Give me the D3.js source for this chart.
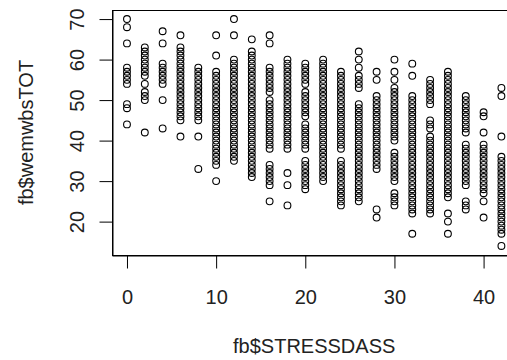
<!DOCTYPE html>
<html>
<head>
<meta charset="utf-8">
<script src="https://cdn.jsdelivr.net/npm/d3@7"></script>
<style>
  html, body { margin: 0; padding: 0; background: #fff; }
  svg { display: block; }
  text { font-family: "Liberation Sans", Arial, sans-serif; fill: #222; }
</style>
</head>
<body>
<div id="chart"></div>
<script>
// STRESSDASS values (x) — one column of points per value
const stressLevels = [0, 2, 4, 6, 8, 10, 12, 14, 16, 18, 20, 22, 24, 26, 28, 30, 32, 34, 36, 38, 40, 42];

const wemwbsByStress = [
  [70, 68, 64, 58, 57, 56, 55, 54, 49, 48, 44],
  [63, 62, 61, 60, 59, 58, 57, 56, 54, 52, 51, 50, 42],
  [67, 64, 59, 58, 57, 56, 55, 54, 50, 43],
  [66, 63, 62, 61, 60, 59, 58, 57, 56, 55, 54, 53, 52, 51, 50, 49, 48, 47, 46, 45, 41],
  [58, 57, 56, 55, 54, 53, 52, 51, 50, 49, 48, 47, 46, 45, 41, 33],
  [66, 61, 57, 56, 55, 54, 53, 52, 51, 50, 49, 48, 47, 46, 45, 44, 43, 42, 41, 40, 39, 38, 37, 36, 35, 34, 30],
  [70, 66, 60, 59, 58, 57, 56, 55, 54, 53, 52, 51, 50, 49, 48, 47, 46, 45, 44, 43, 42, 41, 40, 39, 38, 37, 36, 35],
  [65, 62, 61, 60, 59, 58, 57, 56, 55, 54, 53, 52, 51, 50, 49, 48, 47, 46, 45, 44, 43, 42, 41, 40, 39, 38, 37, 36, 35, 34, 33, 32, 31],
  [66, 64, 58, 57, 56, 55, 54, 53, 52, 50, 49, 48, 47, 46, 45, 44, 43, 42, 41, 40, 39, 38, 34, 33, 32, 31, 30, 29, 25],
  [60, 59, 58, 57, 56, 55, 54, 53, 52, 51, 50, 49, 48, 47, 46, 45, 44, 43, 42, 41, 40, 39, 38, 32, 29, 24],
  [59, 58, 57, 56, 55, 54, 52, 51, 50, 49, 48, 47, 46, 44, 43, 42, 41, 40, 39, 38, 35, 34, 33, 32, 31, 30, 29, 28],
  [60, 59, 58, 57, 56, 55, 54, 53, 52, 51, 50, 49, 48, 47, 46, 45, 44, 43, 42, 41, 40, 39, 38, 37, 36, 35, 34, 33, 32, 31, 30],
  [57, 56, 55, 54, 53, 52, 51, 50, 49, 48, 47, 46, 45, 44, 43, 42, 41, 40, 39, 38, 35, 34, 33, 32, 31, 30, 29, 28, 27, 26, 25, 24],
  [62, 60, 58, 56, 55, 54, 53, 49, 48, 47, 46, 45, 44, 43, 42, 41, 40, 39, 38, 37, 36, 35, 34, 33, 32, 31, 30, 29, 28, 27, 26, 25],
  [57, 55, 51, 50, 49, 48, 47, 46, 45, 44, 43, 42, 41, 40, 39, 38, 37, 36, 35, 34, 33, 23, 21],
  [60, 57, 55, 53, 52, 51, 50, 49, 48, 47, 46, 45, 44, 43, 42, 41, 40, 37, 36, 35, 34, 33, 32, 31, 30, 27, 26, 25, 24],
  [59, 56, 51, 50, 49, 48, 47, 46, 45, 44, 43, 42, 41, 40, 39, 38, 37, 36, 35, 34, 33, 32, 31, 30, 29, 28, 27, 26, 25, 24, 23, 22, 17],
  [55, 54, 53, 52, 51, 50, 49, 45, 44, 43, 41, 40, 39, 38, 37, 36, 35, 34, 33, 32, 31, 30, 29, 28, 27, 26, 25, 24, 23, 22],
  [57, 56, 55, 54, 53, 52, 51, 50, 49, 48, 47, 46, 45, 44, 43, 42, 41, 40, 39, 38, 37, 36, 35, 34, 33, 32, 31, 30, 29, 28, 27, 26, 22, 20, 17],
  [51, 50, 49, 48, 47, 46, 45, 44, 43, 42, 39, 38, 37, 36, 35, 34, 33, 32, 31, 30, 29, 25, 24, 23],
  [47, 46, 42, 39, 38, 37, 36, 35, 34, 33, 32, 31, 30, 29, 28, 27, 25, 21],
  [53, 51, 41, 36, 35, 34, 33, 32, 31, 30, 29, 28, 27, 26, 25, 24, 23, 22, 21, 20, 19, 18, 17, 14]
];

const xTicks = [0, 10, 20, 30, 40];
const yTicks = [20, 30, 40, 50, 60, 70];
const xTitle = "fb$STRESSDASS";
const yTitle = "fb$wemwbsTOT";

const points = [];
stressLevels.forEach((s, i) => wemwbsByStress[i].forEach(w => points.push({ s, w })));

const W = 507, H = 360;
const plot = { left: 112, top: 10, right: 516.4, bottom: 255 };

const svg = d3.select("#chart").append("svg").attr("width", W).attr("height", H);

const x = d3.scaleLinear().domain([-1.68, 43.68]).range([plot.left, plot.right]);
const y = d3.scaleLinear().domain([11.76, 72.24]).range([plot.bottom, plot.top]);

// points
svg.append("g")
  .selectAll("circle")
  .data(points)
  .enter().append("circle")
  .attr("cx", d => x(d.s))
  .attr("cy", d => y(d.w))
  .attr("r", 3.4)
  .attr("fill", "none")
  .attr("stroke", "#000")
  .attr("stroke-width", 1.1);

// box
svg.append("rect")
  .attr("x", plot.left + 0.5).attr("y", plot.top + 0.5)
  .attr("width", plot.right - plot.left).attr("height", plot.bottom - plot.top)
  .attr("fill", "none").attr("stroke", "#000").attr("stroke-width", 1);

// x axis
const gx = svg.append("g")
  .attr("transform", `translate(0,${plot.bottom + 0.5})`)
  .call(d3.axisBottom(x).tickValues(xTicks).tickSize(13).tickSizeOuter(0).tickFormat(d3.format("d")));
gx.selectAll("text")
  .attr("y", 48).attr("dy", 0)
  .style("font-size", "20px").style("font-family", "'Liberation Sans', Arial, sans-serif").attr("fill", "#222");
gx.selectAll("line").attr("stroke", "#000");
gx.select(".domain").attr("stroke", "#000");

// y axis
const gy = svg.append("g")
  .attr("transform", `translate(${plot.left + 0.5},0)`)
  .call(d3.axisLeft(y).tickValues(yTicks).tickSize(13).tickSizeOuter(0).tickFormat(d3.format("d")));
gy.selectAll("text")
  .attr("x", null).attr("dy", 0)
  .attr("text-anchor", "middle")
  .attr("transform", "translate(-29,0) rotate(-90)")
  .style("font-size", "20px").style("font-family", "'Liberation Sans', Arial, sans-serif").attr("fill", "#222");
gy.selectAll("line").attr("stroke", "#000");
gy.select(".domain").attr("stroke", "#000");

// titles
svg.append("text")
  .attr("x", (plot.left + plot.right) / 2)
  .attr("y", 353)
  .attr("text-anchor", "middle")
  .style("font-size", "20px")
  .text(xTitle);

svg.append("text")
  .attr("transform", `translate(33,${(plot.top + plot.bottom) / 2}) rotate(-90)`)
  .attr("text-anchor", "middle")
  .style("font-size", "20px")
  .text(yTitle);
</script>
</body>
</html>
